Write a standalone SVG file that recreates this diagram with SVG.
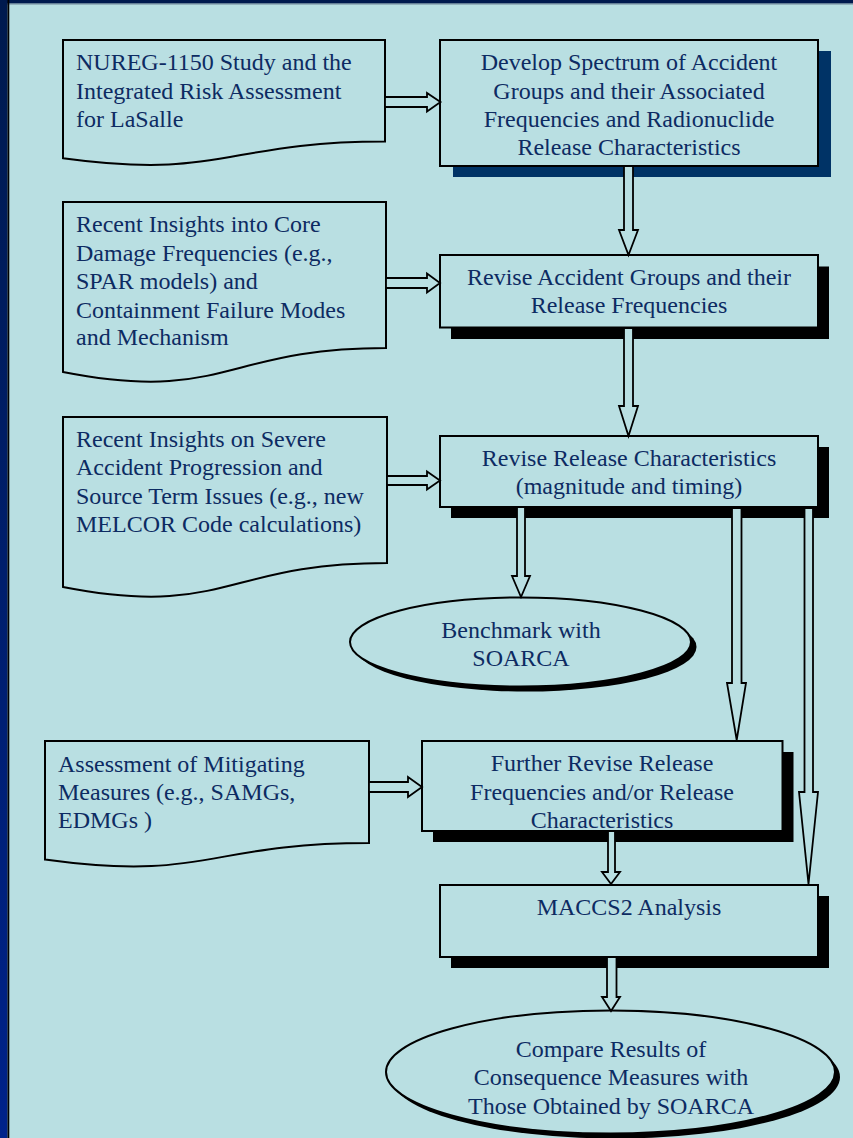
<svg xmlns="http://www.w3.org/2000/svg" width="853" height="1138" viewBox="0 0 853 1138">
<defs>
<linearGradient id="edge" x1="0" y1="0" x2="0" y2="1">
<stop offset="0" stop-color="#001a4e"/>
<stop offset="1" stop-color="#00228a"/>
</linearGradient>
<style>
.box{fill:#b9dfe2;stroke:#000;stroke-width:2}
.doc{fill:#b9dfe2;stroke:#000;stroke-width:2;stroke-linejoin:miter}
.shd{fill:#000}
.shdn{fill:#003366}
.arr{fill:#b9dfe2;stroke:#000;stroke-width:1.8;stroke-linejoin:miter}
text{font-family:"Liberation Serif","Times New Roman",serif;font-size:24px;fill:#0d2b62}
.c{text-anchor:middle}
</style>
</defs>
<rect x="0" y="0" width="853" height="1138" fill="#b9dfe2"/>
<rect x="0" y="0" width="853" height="3.5" fill="#001a4e"/>
<rect x="0" y="3.5" width="853" height="1" fill="#6f8496"/>
<rect x="0" y="0" width="7.5" height="1138" fill="url(#edge)"/>
<rect x="7.5" y="0" width="1.8" height="1138" fill="#000"/>

<g id="n1">
<path class="doc" d="M63,40 H385 V141.5 C224,141.5 224,180.2 63,158.2 Z"/>
<text x="76" y="70">NUREG-1150 Study and the</text>
<text x="76" y="98.5">Integrated Risk Assessment</text>
<text x="76" y="127">for LaSalle</text>
</g>

<g id="n2">
<rect class="shdn" x="453" y="51" width="378" height="126"/>
<rect class="box" x="440" y="40" width="378" height="126"/>
<text class="c" x="629" y="70">Develop Spectrum of Accident</text>
<text class="c" x="629" y="98.5">Groups and their Associated</text>
<text class="c" x="629" y="127">Frequencies and Radionuclide</text>
<text class="c" x="629" y="155">Release Characteristics</text>
</g>

<g id="n3">
<path class="doc" d="M63,202 H386 V348 C224.5,348 224.5,403.6 63,372 Z"/>
<text x="76" y="232">Recent Insights into Core</text>
<text x="76" y="260.5">Damage Frequencies (e.g.,</text>
<text x="76" y="289">SPAR models) and</text>
<text x="76" y="317.5">Containment Failure Modes</text>
<text x="76" y="345">and Mechanism</text>
</g>

<g id="n4">
<rect class="shd" x="451" y="266.5" width="378" height="72.5"/>
<rect class="box" x="440" y="255" width="378" height="72.5"/>
<text class="c" x="629" y="285">Revise Accident Groups and their</text>
<text class="c" x="629" y="313">Release Frequencies</text>
</g>

<g id="n5">
<path class="doc" d="M63,417 H387 V563 C225,563 225,618.6 63,587 Z"/>
<text x="76" y="446.5">Recent Insights on Severe</text>
<text x="76" y="475">Accident Progression and</text>
<text x="76" y="504">Source Term Issues (e.g., new</text>
<text x="76" y="532">MELCOR Code calculations)</text>
</g>

<g id="n6">
<rect class="shd" x="451" y="447" width="378" height="71"/>
<rect class="box" x="440" y="436" width="378" height="71"/>
<text class="c" x="629" y="466">Revise Release Characteristics</text>
<text class="c" x="629" y="494">(magnitude and timing)</text>
</g>

<g id="n7">
<ellipse class="shd" cx="526" cy="647" rx="170.5" ry="44.5"/>
<ellipse class="box" cx="520.5" cy="642" rx="170.5" ry="44.5"/>
<text class="c" x="521" y="638">Benchmark with</text>
<text class="c" x="521" y="666">SOARCA</text>
</g>

<g id="n8">
<path class="doc" d="M45,741 H369 V843 C207,843 207,882 45,859.6 Z"/>
<text x="58" y="771.5">Assessment of Mitigating</text>
<text x="58" y="800">Measures (e.g., SAMGs,</text>
<text x="58" y="827.5">EDMGs )</text>
</g>

<g id="n9">
<rect class="shd" x="433" y="752" width="360.5" height="90"/>
<rect class="box" x="422" y="741" width="360.5" height="90"/>
<text class="c" x="602" y="771">Further Revise Release</text>
<text class="c" x="602" y="800">Frequencies and/or Release</text>
<text class="c" x="602" y="827.5">Characteristics</text>
</g>

<g id="n10">
<rect class="shd" x="451" y="896" width="378" height="72"/>
<rect class="box" x="440" y="885" width="378" height="72"/>
<text class="c" x="629" y="914.5">MACCS2 Analysis</text>
</g>

<g id="n11">
<ellipse class="shd" cx="615.5" cy="1077" rx="224.5" ry="61.5"/>
<ellipse class="box" cx="610.5" cy="1072" rx="224.5" ry="61.5"/>
<text class="c" x="611" y="1057">Compare Results of</text>
<text class="c" x="611" y="1085">Consequence Measures with</text>
<text class="c" x="611" y="1113.5">Those Obtained by SOARCA</text>
</g>

<g id="connectors">
<polygon class="arr" points="385,97 427,97 427,93 440.5,102 427,111.5 427,107 385,107"/>
<polygon class="arr" points="386,278 427,278 427,273.5 440,283 427,292.5 427,288 386,288"/>
<polygon class="arr" points="387,476 427,476 427,471.5 440,480.5 427,489.5 427,485 387,485"/>
<polygon class="arr" points="369,782 408,782 408,777 422,787 408,797 408,792 369,792"/>
<polygon class="arr" points="624,166 633,166 633,230 638,230 628.5,255 619,230 624,230"/>
<polygon class="arr" points="624,328 633,328 633,406 638,406 628.5,436 619,406 624,406"/>
<polygon class="arr" points="517,507 525,507 525,576 530,576 521,597 512,576 517,576"/>
<polygon class="arr" points="732,508 741.5,508 741.5,683 746,683 736.7,740 727,683 732,683"/>
<polygon class="arr" points="804.5,508 813,508 813,792 818,792 808.5,884 799,792 804.5,792"/>
<polygon class="arr" points="608,831 615,831 615,872 620,872 611,884 602,872 608,872"/>
<polygon class="arr" points="607,957 616.5,957 616.5,997 620,997 611,1011 602,997 607,997"/>
</g>
</svg>
